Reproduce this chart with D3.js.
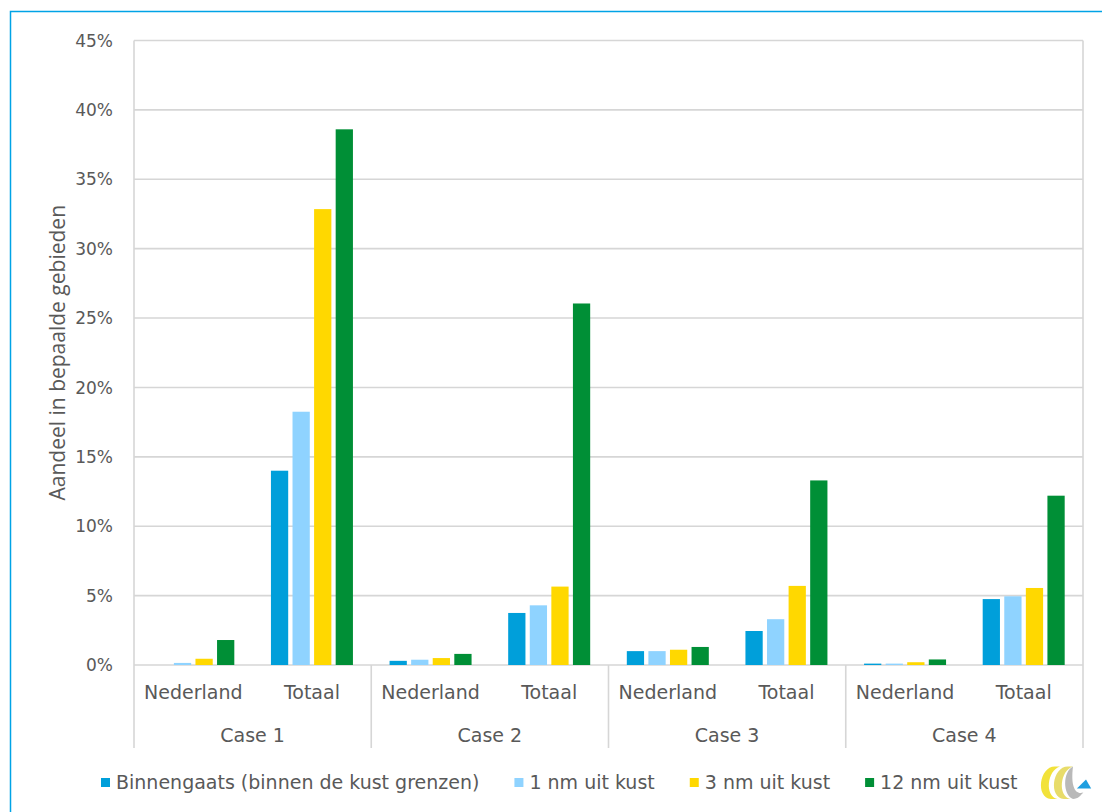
<!DOCTYPE html>
<html>
<head>
<meta charset="utf-8">
<script src="https://cdn.jsdelivr.net/npm/d3@7"></script>
<style>
  body { margin: 0; background: #fff; }
  text { fill: #595959; }
</style>
</head>
<body>
<div id="chart"></div>
<script>
// data
var cases = ["Case 1", "Case 2", "Case 3", "Case 4"];
var groups = ["Nederland", "Totaal"];
var series = ["Binnengaats (binnen de kust grenzen)", "1 nm uit kust", "3 nm uit kust", "12 nm uit kust"];
// per case: Nederland, Totaal (percent)
var binnengaats = [0.0, 14.0, 0.3, 3.75, 1.0, 2.45, 0.1, 4.75];
var nm1 = [0.15, 18.25, 0.38, 4.3, 1.0, 3.3, 0.1, 4.95];
var nm3 = [0.45, 32.85, 0.5, 5.65, 1.1, 5.7, 0.2, 5.55];
var nm12 = [1.8, 38.6, 0.8, 26.05, 1.3, 13.3, 0.4, 12.2];
var yTicks = [0, 5, 10, 15, 20, 25, 30, 35, 40, 45];
var colors = ["#009fda", "#8fd3ff", "#ffd800", "#008f36"];

var w = 1102, h = 812;
var plotL = 134, plotR = 1083, plotT = 40.5, plotB = 665;

var svg = d3.select("#chart").append("svg")
    .attr("width", w)
    .attr("height", h);

// frame
svg.append("rect")
    .attr("x", 10.5).attr("y", 11.5)
    .attr("width", 1200).attr("height", 900)
    .attr("fill", "none")
    .attr("stroke", "#00a3e6")
    .attr("stroke-width", 1.5);

var y = d3.scaleLinear().domain([0, 45]).range([plotB, plotT]);
var x0 = d3.scaleBand().domain(cases).range([plotL, plotR]);
var x1 = d3.scaleBand().domain(groups).range([0, x0.bandwidth()]);
var xs = d3.scaleBand().domain(series).range([-41, 41]).paddingInner(0.2);

// gridlines
svg.append("g").selectAll("line")
    .data(yTicks)
    .enter().append("line")
    .attr("x1", plotL).attr("x2", plotR)
    .attr("y1", function(d) { return y(d); })
    .attr("y2", function(d) { return y(d); })
    .attr("stroke", "#d6d6d6")
    .attr("stroke-width", 1.6);

// vertical lines: plot edges + case separators
var seps = cases.map(function(c) { return x0(c); }).concat([plotR]);
svg.append("g").selectAll("line")
    .data(seps)
    .enter().append("line")
    .attr("x1", function(d) { return d; })
    .attr("x2", function(d) { return d; })
    .attr("y1", function(d, i) { return (i == 0 || i == seps.length - 1) ? plotT : plotB; })
    .attr("y2", 748)
    .attr("stroke", "#d6d6d6")
    .attr("stroke-width", 1.6);

// y tick labels
svg.append("g").selectAll("text")
    .data(yTicks)
    .enter().append("text")
    .attr("x", 113)
    .attr("y", function(d) { return y(d); })
    .attr("dy", "0.36em")
    .attr("text-anchor", "end")
    .style("font", "17px 'DejaVu Sans'")
    .text(function(d) { return d + "%"; });

// y axis title
svg.append("text")
    .attr("transform", "translate(65," + ((plotT + plotB) / 2) + ") rotate(-90)")
    .attr("text-anchor", "middle")
    .style("font", "21px 'Open Sans'")
    .text("Aandeel in bepaalde gebieden");

// bars
var allSeries = [binnengaats, nm1, nm3, nm12];
var cells = [];
cases.forEach(function(c, ci) {
  groups.forEach(function(g, gi) {
    series.forEach(function(s, si) {
      cells.push({ c: c, g: g, s: s, si: si, v: allSeries[si][ci * 2 + gi] });
    });
  });
});

svg.append("g").selectAll("rect")
    .data(cells)
    .enter().append("rect")
    .attr("x", function(d) { return x0(d.c) + x1(d.g) + x1.bandwidth() / 2 + xs(d.s); })
    .attr("y", function(d) { return y(d.v); })
    .attr("width", xs.bandwidth())
    .attr("height", function(d) { return plotB - y(d.v); })
    .attr("fill", function(d) { return colors[d.si]; });

// category labels
var sub = [];
cases.forEach(function(c) { groups.forEach(function(g) { sub.push({ c: c, g: g }); }); });
svg.append("g").selectAll("text")
    .data(sub)
    .enter().append("text")
    .attr("x", function(d) { return x0(d.c) + x1(d.g) + x1.bandwidth() / 2; })
    .attr("y", 699)
    .attr("text-anchor", "middle")
    .style("font", "19px 'DejaVu Sans'")
    .text(function(d) { return d.g; });

svg.append("g").selectAll("text")
    .data(cases)
    .enter().append("text")
    .attr("x", function(d) { return x0(d) + x0.bandwidth() / 2; })
    .attr("y", 742)
    .attr("text-anchor", "middle")
    .style("font", "19px 'DejaVu Sans'")
    .text(function(d) { return d; });

// legend
var lx = 101;
series.forEach(function(s, i) {
  svg.append("rect")
      .attr("x", lx).attr("y", 778)
      .attr("width", 9).attr("height", 9)
      .attr("fill", colors[i]);
  var t = svg.append("text")
      .attr("x", lx + 15).attr("y", 789)
      .style("font", "19px 'DejaVu Sans'")
      .text(s);
  lx = lx + 15 + t.node().getComputedTextLength() + 35;
});

// logo
var logo = svg.append("g").attr("transform", "translate(1060,782) scale(1.3)");
logo.append("path")
    .attr("d", "M-4,-12 C-16,-12 -19,12 -7,13 L-2,13 C-12,11 -10,-9 0,-12 Z")
    .attr("fill", "#f2e23a");
logo.append("path")
    .attr("d", "M6,-12 C-6,-12 -9,12 3,13 L8,13 C-2,11 0,-9 10,-12 Z")
    .attr("fill", "#e8dc6a");
logo.append("path")
    .attr("d", "M10,-12 C2,-8 2,10 10,13 C14,13 16,10 18,8 C12,10 8,4 10,-12 Z")
    .attr("fill", "#b9b9b9");
logo.append("path")
    .attr("d", "M13,5 L20,-2 L24,5 Z")
    .attr("fill", "#1e9fe0");
</script>
</body>
</html>
